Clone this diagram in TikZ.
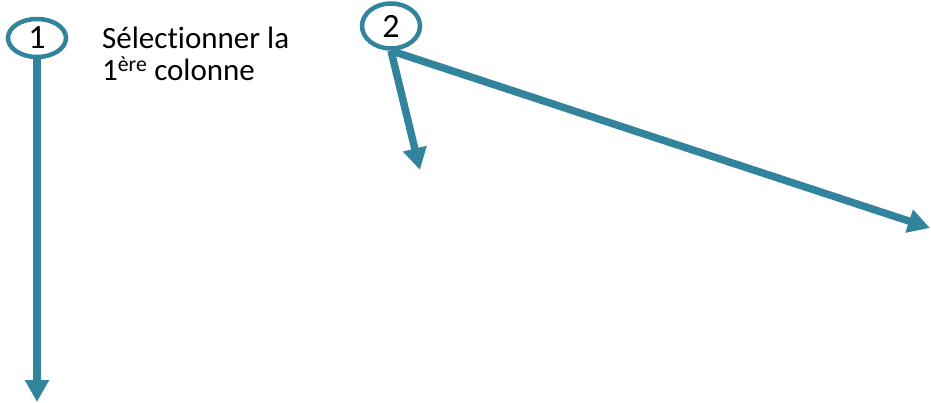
\documentclass[tikz,border=0pt]{standalone}
\usepackage{fontspec}
\setmainfont[Ligatures=NoCommon]{Carlito}
\usetikzlibrary{arrows.meta,shapes.geometric}
\definecolor{teal1}{RGB}{49,132,155}
\begin{document}
\begin{tikzpicture}[x=1pt,y=-1pt,
  num/.style={ellipse,draw=teal1,line width=4.5pt,inner sep=0pt,font=\fontsize{34}{34}\selectfont},
  arr/.style={draw=teal1,line width=7.5pt,-{Triangle[length=22pt,width=23pt]}}]
\useasboundingbox (0,0) rectangle (931,403);
\node[num,minimum width=58pt,minimum height=38pt] (c1) at (37,38) {1};
\node[num,minimum width=58pt,minimum height=45pt] (c2) at (391,26) {2};
\node[anchor=base west,inner sep=0pt,align=left,font=\fontsize{31}{32}\selectfont] (t) at (102,81)
  {Sélectionner la\\1\textsuperscript{ère} colonne};
\coordinate (e1) at (37,402);
\coordinate (e2) at (420,170);
\coordinate (e3) at (930,228);
\draw[arr] (c1.south) -- (e1);
\draw[arr] (c2.south) -- (e2);
\draw[arr] (c2.south) -- (e3);
\end{tikzpicture}
\end{document}
